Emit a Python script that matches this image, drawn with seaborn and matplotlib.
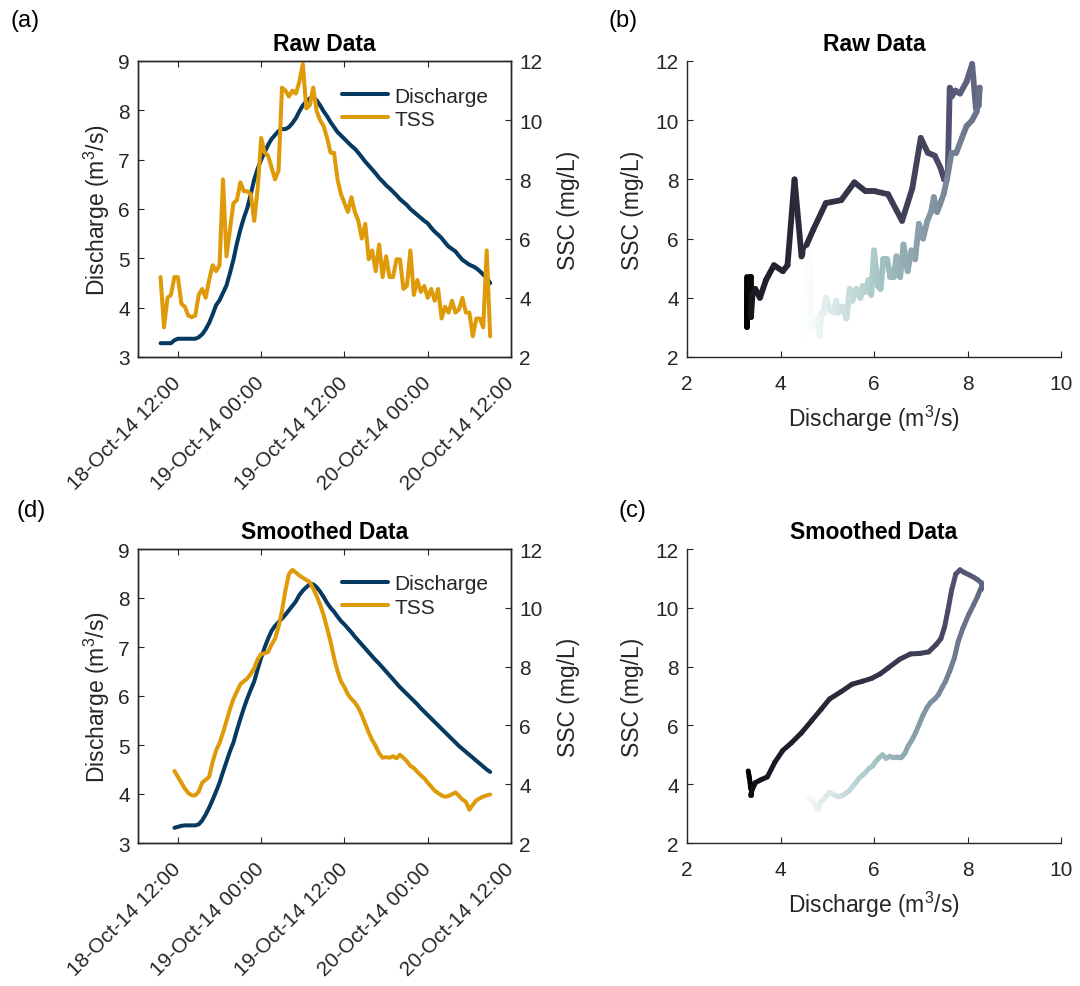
import numpy as np
import pandas as pd
import matplotlib
matplotlib.use("Agg")
import matplotlib.pyplot as plt
from matplotlib.collections import LineCollection
from matplotlib.transforms import ScaledTranslation
import seaborn as sns

# ---------------- data ----------------
start_time = "2014-10-18 09:30"
step = "30min"

raw_discharge = [3.28, 3.28, 3.28, 3.28, 3.34, 3.37, 3.37, 3.37, 3.37, 3.37,
                 3.37, 3.40, 3.46, 3.56, 3.69, 3.86, 4.05, 4.15, 4.30, 4.45,
                 4.70, 4.97, 5.30, 5.58, 5.82, 6.02, 6.30, 6.60, 6.82, 7.00,
                 7.15, 7.30, 7.42, 7.50, 7.58, 7.62, 7.62, 7.66, 7.74, 7.84,
                 7.98, 8.10, 8.18, 8.24, 8.26, 8.20, 8.10, 7.98, 7.88, 7.76,
                 7.66, 7.56, 7.49, 7.42, 7.35, 7.28, 7.22, 7.14, 7.05, 6.96,
                 6.88, 6.80, 6.72, 6.63, 6.56, 6.48, 6.42, 6.35, 6.28, 6.20,
                 6.14, 6.08, 6.00, 5.94, 5.88, 5.82, 5.76, 5.71, 5.62, 5.54,
                 5.48, 5.41, 5.32, 5.24, 5.19, 5.14, 5.05, 4.97, 4.92, 4.87,
                 4.84, 4.80, 4.74, 4.67, 4.60, 4.50]

raw_tss = [4.7, 3.0, 4.0, 4.1, 4.7, 4.7, 3.8, 3.7, 3.4, 3.35,
           3.4, 4.1, 4.3, 4.0, 4.6, 5.1, 4.9, 5.1, 8.0, 5.4,
           6.3, 7.2, 7.3, 7.9, 7.6, 7.6, 7.5, 6.6, 7.7, 9.4,
           8.9, 8.8, 8.4, 8.0, 8.3, 11.1, 11.0, 10.8, 11.0, 10.9,
           11.3, 11.9, 10.4, 10.5, 11.1, 10.3, 10.0, 9.8, 9.4, 8.9,
           8.9, 8.0, 7.5, 7.2, 6.9, 7.4, 6.9, 6.6, 6.0, 6.5,
           5.3, 5.6, 4.9, 5.8, 4.7, 5.4, 4.7, 4.7, 5.3, 5.3,
           4.3, 4.4, 5.6, 4.1, 4.6, 4.2, 4.4, 4.0, 4.3, 3.9,
           4.3, 3.3, 3.7, 3.5, 3.9, 3.5, 3.6, 4.0, 3.5, 3.5,
           2.7, 3.3, 3.3, 3.0, 5.6, 2.7]

smooth_offset = 4  # smoothed series starts 4 samples later
smooth_discharge = [3.31, 3.33, 3.35, 3.36, 3.36, 3.36, 3.36, 3.38, 3.46, 3.58,
                    3.72, 3.88, 4.05, 4.23, 4.45, 4.66, 4.87, 5.05, 5.30, 5.53,
                    5.75, 5.95, 6.13, 6.30, 6.55, 6.78, 6.99, 7.17, 7.33, 7.43,
                    7.51, 7.58, 7.66, 7.75, 7.84, 7.93, 8.06, 8.15, 8.22, 8.28,
                    8.28, 8.22, 8.13, 8.02, 7.90, 7.80, 7.72, 7.62, 7.53, 7.46,
                    7.38, 7.30, 7.21, 7.13, 7.05, 6.97, 6.89, 6.81, 6.73, 6.66,
                    6.58, 6.50, 6.42, 6.34, 6.26, 6.18, 6.11, 6.04, 5.97, 5.90,
                    5.83, 5.75, 5.68, 5.61, 5.54, 5.47, 5.40, 5.33, 5.26, 5.19,
                    5.12, 5.05, 4.98, 4.92, 4.86, 4.80, 4.74, 4.68, 4.62, 4.56,
                    4.50, 4.45]

smooth_tss = [4.45, 4.25, 4.05, 3.85, 3.70, 3.62, 3.62, 3.75, 4.05, 4.15,
              4.25, 4.75, 5.15, 5.40, 5.75, 6.15, 6.55, 6.90, 7.15, 7.40,
              7.50, 7.60, 7.75, 7.95, 8.25, 8.43, 8.45, 8.50, 8.75, 8.95,
              9.35, 9.90, 10.60, 11.15, 11.29, 11.20, 11.10, 11.02, 10.95, 10.87,
              10.65, 10.40, 10.10, 9.75, 9.30, 8.85, 8.30, 7.85, 7.50, 7.30,
              7.05, 6.90, 6.78, 6.60, 6.35, 6.05, 5.75, 5.50, 5.30, 5.05,
              4.90, 4.92, 4.90, 4.95, 4.88, 5.00, 4.90, 4.78, 4.62, 4.55,
              4.42, 4.30, 4.20, 4.05, 3.92, 3.78, 3.70, 3.62, 3.57, 3.60,
              3.66, 3.72, 3.60, 3.48, 3.40, 3.13, 3.30, 3.45, 3.52, 3.58,
              3.62, 3.65]

date_ticks = ["2014-10-18 12:00", "2014-10-19 00:00", "2014-10-19 12:00",
              "2014-10-20 00:00", "2014-10-20 12:00"]
date_tick_labels = ["18-Oct-14 12:00", "19-Oct-14 00:00", "19-Oct-14 12:00",
                    "20-Oct-14 00:00", "20-Oct-14 12:00"]
time_limits = ["2014-10-18 06:15", "2014-10-20 12:00"]

discharge_ticks = [3, 4, 5, 6, 7, 8, 9]
ssc_ticks = [2, 4, 6, 8, 10, 12]
hyst_x_ticks = [2, 4, 6, 8, 10]
hyst_y_ticks = [2, 4, 6, 8, 10, 12]

legend_labels = ["Discharge", "TSS"]
q_label = "Discharge (m$^3$/s)"
ssc_label = "SSC (mg/L)"

# ---------------- style ----------------
sns.set_theme(style="white")
plt.rcParams["font.family"] = ["Liberation Sans", "DejaVu Sans"]
plt.rcParams["mathtext.fontset"] = "custom"
plt.rcParams["mathtext.rm"] = "Liberation Sans"
plt.rcParams["mathtext.it"] = "Liberation Sans:italic"
plt.rcParams["mathtext.bf"] = "Liberation Sans:bold"

NAVY = "#063a60"
ORANGE = "#de9a08"
GREY = "#262626"
TICK_FS = 15
LABEL_FS = 16.5
TITLE_FS = 16.5
LW_TS = 2.9

times = pd.date_range(start_time, periods=len(raw_discharge), freq=step)
smooth_times = times[smooth_offset:smooth_offset + len(smooth_discharge)]

fig = plt.figure(figsize=(10.8, 9.87), dpi=100)
W, H = 1080.0, 987.0


def rect(l, t, r, b):
    return [l / W, 1 - b / H, (r - l) / W, (b - t) / H]


ax_a = fig.add_axes(rect(138, 62, 511, 358))
ax_b = fig.add_axes(rect(687, 62, 1061, 358))
ax_d = fig.add_axes(rect(138, 550, 511, 844))
ax_c = fig.add_axes(rect(687, 550, 1061, 844))


def style_spines(ax, sides):
    for s in ["left", "right", "top", "bottom"]:
        ax.spines[s].set_visible(s in sides)
        ax.spines[s].set_color(GREY)
        ax.spines[s].set_linewidth(1.0)


def time_panel(ax, t, q, s, title):
    df = pd.DataFrame({"time": t, "discharge": q, "tss": s})
    sns.lineplot(data=df, x="time", y="discharge", ax=ax, color=NAVY,
                 linewidth=LW_TS, legend=False)
    ax2 = ax.twinx()
    sns.lineplot(data=df, x="time", y="tss", ax=ax2, color=ORANGE,
                 linewidth=LW_TS, legend=False)
    ax.set_xlim(pd.Timestamp(time_limits[0]), pd.Timestamp(time_limits[1]))
    ax.set_ylim(discharge_ticks[0], discharge_ticks[-1])
    ax2.set_ylim(ssc_ticks[0], ssc_ticks[-1])
    ax.set_yticks(discharge_ticks)
    ax2.set_yticks(ssc_ticks)
    ax.set_xticks(pd.to_datetime(date_ticks))
    ax.set_xticklabels(date_tick_labels, rotation=45, ha="right",
                       va="center", rotation_mode="anchor")
    off = ScaledTranslation(7 / 100, 0, fig.dpi_scale_trans)
    for lab in ax.get_xticklabels():
        lab.set_transform(lab.get_transform() + off)
    ax.set_xlabel("")
    ax2.set_xlabel("")
    ax.set_ylabel(q_label, fontsize=LABEL_FS, color=GREY, labelpad=4)
    ax2.set_ylabel(ssc_label, fontsize=LABEL_FS, color=GREY, labelpad=10)
    style_spines(ax, ["left", "right", "top", "bottom"])
    style_spines(ax2, ["left", "right", "top", "bottom"])
    ax.tick_params(axis="x", direction="in", length=4, width=0.8, color=GREY,
                   labelcolor=GREY, labelsize=TICK_FS, top=True, bottom=True,
                   pad=16)
    ax.tick_params(axis="y", direction="in", length=4, width=0.8, color=GREY,
                   labelcolor=GREY, labelsize=TICK_FS, left=True, right=False,
                   pad=6)
    ax2.tick_params(axis="y", direction="in", length=4, width=0.8, color=GREY,
                    labelcolor=GREY, labelsize=TICK_FS, right=True, left=False,
                    pad=6)
    ax.set_title(title, fontsize=TITLE_FS, fontweight="bold", color="black",
                 pad=8)
    handles = [ax.get_lines()[0], ax2.get_lines()[0]]
    ax2.legend(handles, legend_labels, loc="upper right",
               bbox_to_anchor=(0.962, 0.942), borderaxespad=0, frameon=False,
               fontsize=TICK_FS, handlelength=2.2, handletextpad=0.3,
               labelspacing=0.2, labelcolor=GREY)
    return ax2


def hyst_panel(ax, q, s, title, lw):
    pts = np.column_stack([q, s])
    segs = np.stack([pts[:-1], pts[1:]], axis=1)
    lc = LineCollection(segs, cmap="bone", norm=plt.Normalize(0, len(q) - 1),
                        linewidths=lw, capstyle="round", joinstyle="round")
    lc.set_array(np.arange(len(q) - 1))
    ax.add_collection(lc)
    ax.set_xlim(hyst_x_ticks[0], hyst_x_ticks[-1])
    ax.set_ylim(hyst_y_ticks[0], hyst_y_ticks[-1])
    ax.set_xticks(hyst_x_ticks)
    ax.set_yticks(hyst_y_ticks)
    sns.despine(ax=ax)
    style_spines(ax, ["left", "bottom"])
    ax.tick_params(axis="x", direction="in", length=4, width=0.8, color=GREY,
                   labelcolor=GREY, labelsize=TICK_FS, bottom=True, pad=12)
    ax.tick_params(axis="y", direction="in", length=4, width=0.8, color=GREY,
                   labelcolor=GREY, labelsize=TICK_FS, left=True, pad=6)
    ax.set_xlabel(q_label, fontsize=LABEL_FS, color=GREY, labelpad=7)
    ax.set_ylabel(ssc_label, fontsize=LABEL_FS, color=GREY, labelpad=8)
    ax.set_title(title, fontsize=TITLE_FS, fontweight="bold", color="black",
                 pad=8)


time_panel(ax_a, times, raw_discharge, raw_tss, "Raw Data")
time_panel(ax_d, smooth_times, smooth_discharge, smooth_tss, "Smoothed Data")
hyst_panel(ax_b, raw_discharge, raw_tss, "Raw Data", 4.2)
hyst_panel(ax_c, smooth_discharge, smooth_tss, "Smoothed Data", 3.6)

for txt, x, y in [("(a)", 10, 21), ("(b)", 609, 21), ("(d)", 16, 511), ("(c)", 619, 511)]:
    fig.text(x / W, 1 - y / H, txt, ha="left", va="center", fontsize=17,
             color="black")

fig.savefig("out.png", dpi=100, facecolor="white")
